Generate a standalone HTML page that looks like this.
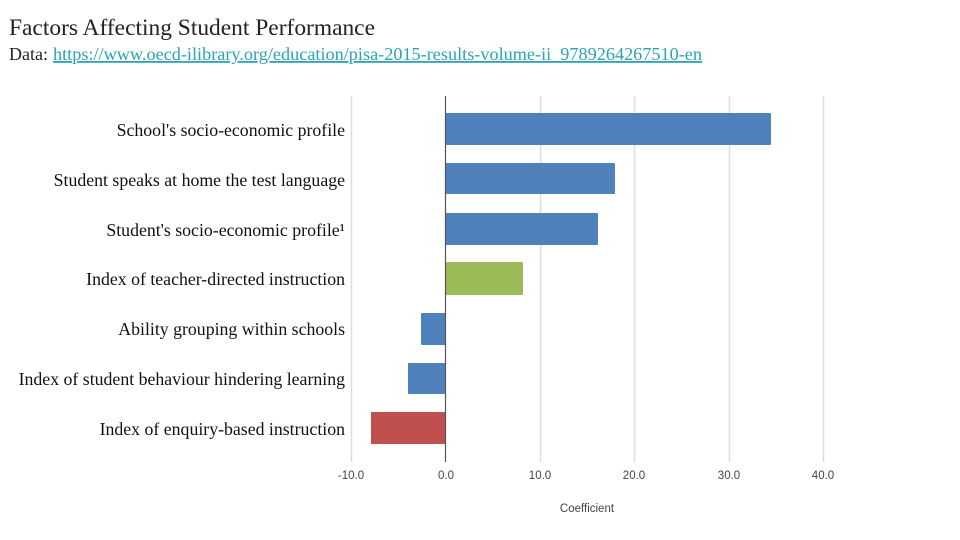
<!DOCTYPE html>
<html><head><meta charset="utf-8"><style>
body{margin:0;background:#fff;width:960px;height:540px;overflow:hidden}
svg{display:block}
.l{font-family:"Liberation Serif",serif;font-size:17.8px;fill:#111;text-anchor:end}
.t{font-family:"Liberation Sans",sans-serif;font-size:11.5px;fill:#444;text-anchor:middle}
</style></head><body>
<svg width="960" height="540" xmlns="http://www.w3.org/2000/svg">
<text x="9" y="35" font-family="Liberation Serif,serif" font-size="23.4" fill="#222" textLength="366" lengthAdjust="spacingAndGlyphs">Factors Affecting Student Performance</text>
<text x="9" y="60" font-family="Liberation Serif,serif" font-size="18" fill="#222">Data:</text>
<text x="53" y="60" font-family="Liberation Serif,serif" font-size="18" fill="#2aa3b4" text-decoration="underline" textLength="649" lengthAdjust="spacingAndGlyphs">https://www.oecd-ilibrary.org/education/pisa-2015-results-volume-ii_9789264267510-en</text>
<g stroke="#ddd" stroke-width="1.5">
<line x1="351.5" y1="96" x2="351.5" y2="462"/>
<line x1="540.5" y1="96" x2="540.5" y2="462"/>
<line x1="634.5" y1="96" x2="634.5" y2="462"/>
<line x1="729.5" y1="96" x2="729.5" y2="462"/>
<line x1="823.5" y1="96" x2="823.5" y2="462"/>
</g>
<g fill="#4f81bd">
<rect x="446" y="113" width="325" height="32" rx="1"/>
<rect x="446" y="163" width="169" height="31" rx="1"/>
<rect x="446" y="213" width="152" height="32" rx="1"/>
<rect x="421" y="313" width="25" height="32" rx="1"/>
<rect x="408" y="363" width="38" height="31" rx="1"/>
</g>
<rect x="446" y="262" width="77" height="33" fill="#9bbb59" rx="1"/>
<rect x="371" y="412" width="75" height="32" fill="#c0504d" rx="1"/>
<line x1="445.5" y1="96" x2="445.5" y2="462" stroke="#555" stroke-width="1.2"/>
<text class="l" x="345" y="136">School's socio-economic profile</text>
<text class="l" x="345" y="186">Student speaks at home the test language</text>
<text class="l" x="345" y="236">Student's socio-economic profile¹</text>
<text class="l" x="345" y="285">Index of teacher-directed instruction</text>
<text class="l" x="345" y="335">Ability grouping within schools</text>
<text class="l" x="345" y="385">Index of student behaviour hindering learning</text>
<text class="l" x="345" y="435">Index of enquiry-based instruction</text>
<text class="t" x="351" y="479">-10.0</text>
<text class="t" x="446" y="479">0.0</text>
<text class="t" x="540" y="479">10.0</text>
<text class="t" x="634" y="479">20.0</text>
<text class="t" x="729" y="479">30.0</text>
<text class="t" x="823" y="479">40.0</text>
<text class="t" x="587" y="512" font-size="11" fill="#333">Coefficient</text>
</svg>
</body></html>
